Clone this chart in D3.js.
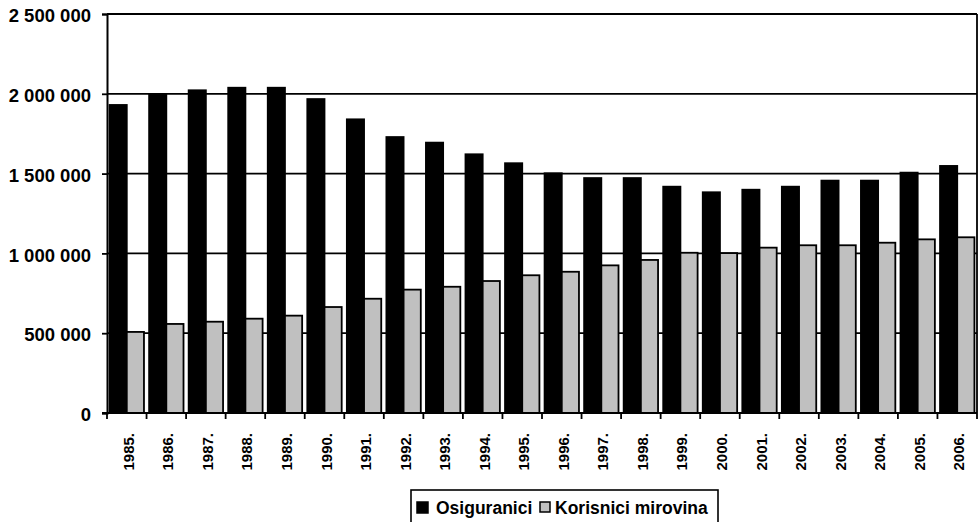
<!DOCTYPE html>
<html>
<head>
<meta charset="utf-8">
<script src="https://cdn.jsdelivr.net/npm/d3@7"></script>
<style>
  html, body { margin: 0; padding: 0; background: #fff; }
  svg { display: block; font-family: "Liberation Sans", Arial, sans-serif; }
</style>
</head>
<body>
<svg id="chart" width="980" height="522"></svg>
<script>
// Insured persons vs. pension recipients, 1985–2006
const years = ["1985.", "1986.", "1987.", "1988.", "1989.", "1990.", "1991.", "1992.", "1993.", "1994.", "1995.",
               "1996.", "1997.", "1998.", "1999.", "2000.", "2001.", "2002.", "2003.", "2004.", "2005.", "2006."];
const osiguranici = [1930000, 1998000, 2022000, 2038000, 2038000, 1967000, 1840000, 1729000, 1694000, 1621000, 1565000,
                     1502000, 1472000, 1472000, 1418000, 1383000, 1399000, 1418000, 1456000, 1456000, 1506000, 1548000];
const korisnici = [508000, 558000, 572000, 591000, 610000, 664000, 716000, 773000, 791000, 827000, 863000,
                   885000, 925000, 959000, 1004000, 1002000, 1036000, 1051000, 1051000, 1067000, 1088000, 1101000];
const seriesNames = ["Osiguranici", "Korisnici mirovina"];
const seriesColors = ["#000000", "#c0c0c0"];
const yTicks = [0, 500000, 1000000, 1500000, 2000000, 2500000];

const svg = d3.select("#chart");
const plotLeft = 107, plotRight = 977, plotTop = 14, plotBottom = 413;

const x0 = d3.scaleBand().domain(years).range([plotLeft, plotRight]).paddingInner(0).paddingOuter(0);
const x1 = d3.scaleBand().domain(seriesNames).range([0, x0.bandwidth()]).paddingInner(0).paddingOuter(0.15);
const y = d3.scaleLinear().domain([0, 2500000]).range([plotBottom, plotTop]);

const fmt = d3.formatLocale({ decimal: ",", thousands: " ", grouping: [3], currency: ["", ""] }).format(",d");

// horizontal gridlines
svg.append("g")
  .selectAll("line")
  .data(yTicks.filter(d => d > 0))
  .join("line")
  .attr("x1", plotLeft).attr("x2", plotRight)
  .attr("y1", d => y(d)).attr("y2", d => y(d))
  .attr("stroke", "#000").attr("stroke-width", 1.8);

// right border of plot area
svg.append("line")
  .attr("x1", plotRight).attr("x2", plotRight).attr("y1", plotTop).attr("y2", plotBottom)
  .attr("stroke", "#000").attr("stroke-width", 1.8);

// bars
const rows = years.map((yr, i) => ({ yr, vals: [osiguranici[i], korisnici[i]] }));
const groups = svg.append("g").selectAll("g")
  .data(rows)
  .join("g")
  .attr("transform", d => `translate(${x0(d.yr)},0)`);

groups.selectAll("rect")
  .data(d => d.vals.map((v, k) => ({ name: seriesNames[k], v, k })))
  .join("rect")
  .attr("x", d => x1(d.name))
  .attr("width", x1.bandwidth())
  .attr("y", d => y(d.v))
  .attr("height", d => y(0) - y(d.v))
  .attr("fill", d => seriesColors[d.k])
  .attr("stroke", "#000")
  .attr("stroke-width", 1.8);

// y axis
const yAxis = svg.append("g")
  .attr("transform", `translate(${plotLeft},0)`)
  .call(d3.axisLeft(y).tickValues(yTicks).tickFormat(fmt).tickSize(5).tickPadding(11));
yAxis.select(".domain").attr("stroke", "#000").attr("stroke-width", 2);
yAxis.selectAll(".tick line").attr("stroke", "#000").attr("stroke-width", 1.8);
yAxis.selectAll(".tick text")
  .attr("fill", "#000")
  .style("font-size", "18.5px")
  .style("font-weight", "bold")
  .attr("dy", "0.42em");

// x axis line
svg.append("line")
  .attr("x1", plotLeft - 5).attr("x2", plotRight).attr("y1", plotBottom).attr("y2", plotBottom)
  .attr("stroke", "#000").attr("stroke-width", 2);

// category boundary ticks
const bounds = years.map(yr => x0(yr)).concat([plotRight]);
svg.append("g").selectAll("line")
  .data(bounds)
  .join("line")
  .attr("x1", d => d).attr("x2", d => d)
  .attr("y1", plotBottom).attr("y2", plotBottom + 6)
  .attr("stroke", "#000").attr("stroke-width", 1.8);

// year labels
const xAxis = svg.append("g")
  .attr("transform", `translate(0,${plotBottom})`)
  .call(d3.axisBottom(x0).tickSize(0));
xAxis.select(".domain").remove();
xAxis.selectAll(".tick text")
  .attr("fill", "#000")
  .style("font-size", "15px")
  .style("font-weight", "bold")
  .attr("text-anchor", "end")
  .attr("x", 0).attr("y", 0)
  .attr("dy", "0.4em")
  .attr("transform", "translate(1,20) rotate(-90)");

// legend
const legend = svg.append("g");
legend.append("rect")
  .attr("x", 411).attr("y", 490).attr("width", 307).attr("height", 40)
  .attr("fill", "#fff").attr("stroke", "#000").attr("stroke-width", 1.6);
const legendItems = [
  { name: seriesNames[0], color: seriesColors[0], mx: 417, tx: 436, size: 11 },
  { name: seriesNames[1], color: seriesColors[1], mx: 540, tx: 555, size: 10 }
];
legend.selectAll("rect.key")
  .data(legendItems)
  .join("rect")
  .attr("class", "key")
  .attr("x", d => d.mx).attr("y", 502)
  .attr("width", d => d.size).attr("height", d => d.size)
  .attr("fill", d => d.color)
  .attr("stroke", "#000").attr("stroke-width", 1.5);
legend.selectAll("text")
  .data(legendItems)
  .join("text")
  .attr("x", d => d.tx).attr("y", 507)
  .attr("dy", "0.38em")
  .attr("fill", "#000")
  .style("font-size", "17.5px")
  .style("font-weight", "bold")
  .text(d => d.name);
</script>
</body>
</html>
